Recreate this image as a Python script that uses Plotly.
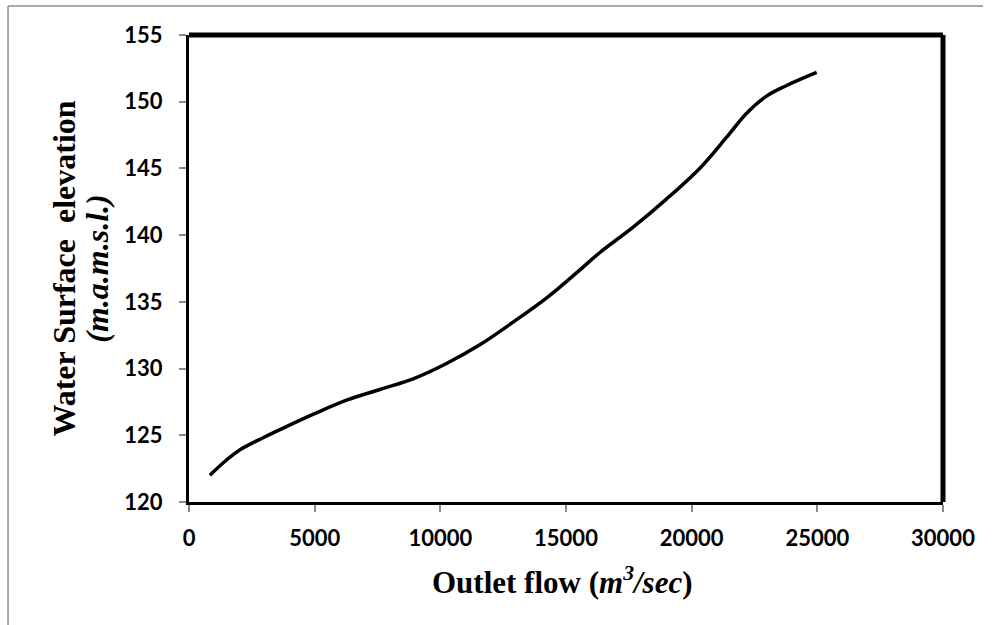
import plotly.graph_objects as go

# Data
outlet_flow = [830, 1400, 2063, 2989, 3651, 4974, 6296, 7619, 8942, 10265, 11587,
               12910, 14233, 15556, 16349, 17672, 18995, 20317, 21375, 22169,
               22963, 23757, 24972]
water_elev = [122.0, 123.0, 123.95, 124.85, 125.45, 126.6, 127.65, 128.45, 129.25, 130.4,
              131.8, 133.5, 135.3, 137.4, 138.7, 140.6, 142.7, 145.0, 147.3,
              149.1, 150.4, 151.2, 152.2]

x_ticks = [0, 5000, 10000, 15000, 20000, 25000, 30000]
y_ticks = [120, 125, 130, 135, 140, 145, 150, 155]

fig = go.Figure()
fig.add_trace(go.Scatter(
    x=outlet_flow, y=water_elev, mode="lines",
    line=dict(color="black", width=3.5, shape="spline", smoothing=1.0),
    showlegend=False, hoverinfo="skip"))

tick_font = dict(family="Lato", size=22, color="black")
serif = "Liberation Serif"

fig.update_layout(
    width=993, height=625,
    margin=dict(l=189, r=50, t=35, b=123),
    paper_bgcolor="white", plot_bgcolor="white",
    xaxis=dict(range=[0, 30000], tickvals=x_ticks,
               ticktext=["<b>%d</b>" % v for v in x_ticks],
               showgrid=False, zeroline=False,
               showline=True, linecolor="black", linewidth=3,
               ticks="outside", ticklen=7, tickwidth=2, tickcolor="#8a8a8a",
               ticklabelstandoff=8, tickfont=tick_font),
    yaxis=dict(range=[120, 155], tickvals=y_ticks,
               ticktext=["<b>%d</b>" % v for v in y_ticks],
               showgrid=False, zeroline=False,
               showline=True, linecolor="black", linewidth=3,
               ticks="outside", ticklen=7, tickwidth=2, tickcolor="#8a8a8a",
               ticklabelstandoff=12, tickfont=tick_font),
    shapes=[
        # thick top and right plot borders
        dict(type="line", xref="paper", yref="paper", x0=0, x1=1, y0=1, y1=1,
             line=dict(color="black", width=5)),
        dict(type="line", xref="paper", yref="paper", x0=1, x1=1, y0=0, y1=1,
             line=dict(color="black", width=5)),
        # outer chart frame (top and left only visible)
        dict(type="line", xref="paper", yref="paper", x0=-0.240, x1=1.053, y0=1.062, y1=1.062,
             line=dict(color="#8c8c8c", width=1.5)),
        dict(type="line", xref="paper", yref="paper", x0=-0.240, x1=-0.240, y0=-0.3, y1=1.062,
             line=dict(color="#8c8c8c", width=1.5)),
    ],
    annotations=[
        dict(text="<b>Outlet flow (<i>m<sup>3</sup>/sec</i>)</b>", xref="paper", yref="paper",
             x=0.495, y=-0.168, xanchor="center", yanchor="middle", showarrow=False,
             font=dict(family=serif, size=31, color="black")),
        dict(text="<b>Water Surface  elevation</b>", xref="paper", yref="paper",
             x=-0.167, y=0.5, xanchor="center", yanchor="middle", textangle=-90,
             showarrow=False, font=dict(family=serif, size=32, color="black")),
        dict(text="<b><i>(m.a.m.s.l.)</i></b>", xref="paper", yref="paper",
             x=-0.123, y=0.5, xanchor="center", yanchor="middle", textangle=-90,
             showarrow=False, font=dict(family=serif, size=32, color="black")),
    ],
)

fig.write_html("out.html")
